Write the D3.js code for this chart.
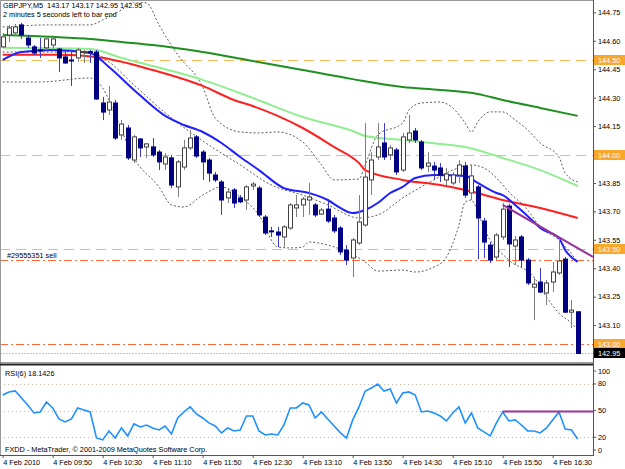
<!DOCTYPE html>
<html>
<head>
<meta charset="utf-8">
<script src="https://cdn.jsdelivr.net/npm/d3@7"></script>
<style>
  body { margin: 0; background: #fff; }
  text { font-family: "Liberation Sans", Arial, sans-serif; font-size: 7.3px; white-space: pre; }
</style>
</head>
<body>
<svg id="chart" width="625" height="469"></svg>
<script>
// GBPJPY M5, 4 Feb 2010, bars 09:10 .. 16:50
const open = [144.568,144.631,144.642,144.684,144.615,144.568,144.552,144.563,144.578,144.557,
  144.515,144.499,144.510,144.541,144.543,144.541,144.272,144.235,144.272,144.103,
  144.140,143.971,144.082,144.040,144.040,144.013,143.950,143.982,143.829,143.934,
  144.035,144.093,144.013,143.971,143.892,143.855,143.771,143.813,143.771,143.760,
  143.834,143.823,143.670,143.597,143.591,143.565,143.612,143.718,143.734,143.760,
  143.734,143.686,143.712,143.665,143.612,143.496,143.454,143.533,143.628,143.866,
  143.987,144.061,143.998,144.024,143.918,144.077,144.124,144.066,143.939,143.939,
  143.929,143.866,143.850,143.892,143.939,143.797,143.829,143.649,143.522,143.459,
  143.565,143.728,143.517,143.565,143.443,143.300,143.327,143.269,143.327,143.375,
  143.448,143.168,143.170];
const high = [144.642,144.684,144.689,144.695,144.631,144.578,144.615,144.615,144.621,144.563,
  144.552,144.552,144.563,144.552,144.552,144.552,144.304,144.362,144.288,144.182,
  144.156,144.103,144.087,144.061,144.087,144.024,144.008,143.998,143.971,144.077,
  144.130,144.103,144.024,143.982,143.908,143.866,143.823,143.823,143.786,143.839,
  143.855,143.834,143.681,143.618,143.618,143.628,143.744,143.786,143.776,143.850,
  143.744,143.718,143.765,143.681,143.623,143.522,143.560,143.786,144.166,144.013,
  144.166,144.166,144.050,144.035,144.114,144.209,144.140,144.077,144.013,143.961,
  143.955,143.929,143.908,143.971,143.961,143.945,143.839,143.665,143.538,143.586,
  143.744,143.739,143.570,143.575,143.454,143.348,143.401,143.338,143.433,143.565,
  143.459,143.232,143.170];
const low = [144.563,144.594,144.626,144.610,144.563,144.526,144.510,144.552,144.552,144.436,
  144.478,144.362,144.489,144.483,144.483,144.288,144.182,144.209,144.077,144.077,
  143.971,143.955,143.987,143.982,143.987,143.918,143.918,143.823,143.776,143.918,
  144.024,143.982,143.866,143.855,143.855,143.681,143.744,143.718,143.744,143.707,
  143.813,143.670,143.575,143.565,143.512,143.507,143.602,143.670,143.670,143.681,
  143.670,143.681,143.639,143.586,143.470,143.417,143.353,143.522,143.618,143.786,
  143.971,143.971,143.971,143.892,143.908,144.061,144.061,143.918,143.908,143.866,
  143.855,143.839,143.839,143.850,143.771,143.760,143.448,143.454,143.427,143.443,
  143.549,143.406,143.417,143.406,143.311,143.126,143.269,143.205,143.274,143.364,
  143.163,143.084,142.950];
const close = [144.621,144.668,144.673,144.631,144.578,144.536,144.550,144.610,144.610,144.510,
  144.483,144.497,144.552,144.543,144.541,144.293,144.224,144.277,144.087,144.161,
  143.982,144.093,144.035,144.056,143.998,143.961,143.987,143.839,143.961,144.035,
  144.087,143.992,143.961,143.902,143.866,143.760,143.802,143.744,143.750,143.829,
  143.844,143.681,143.586,143.594,143.575,143.618,143.734,143.734,143.765,143.776,
  143.681,143.707,143.649,143.597,143.486,143.443,143.549,143.644,143.881,143.971,
  144.040,143.987,144.035,143.908,144.093,144.114,144.077,143.929,143.955,143.918,
  143.892,143.897,143.892,143.945,143.786,143.887,143.665,143.538,143.443,143.575,
  143.712,143.528,143.549,143.443,143.322,143.316,143.274,143.322,143.380,143.438,
  143.168,143.179,142.950];

// RSI(6), one value per bar
const rsi = [67.6,71,72.1,64.2,56.3,47.3,48.5,59.7,53,40.6,
  37.2,40.6,53,50.7,48.5,19.2,17,27.1,19.2,30.5,
  21.5,35,31.6,33.8,30.5,28.2,32.7,23.7,41.7,48.5,
  54.1,46.2,41.7,36.1,32.7,24.8,30.5,27.1,28.2,44,
  44,27.1,22.6,23.7,22.6,33.8,53,53,58.6,56.3,
  41.7,48.5,40.6,33,25.2,18.9,39.5,54.1,72.1,75.5,
  80,72.1,74.3,58.6,69.8,71,67.6,48.5,49.6,47.3,
  44,38.3,47.3,54.1,36.1,47.3,30.5,26,21.5,36.1,
  48.5,38.3,39.5,33.8,27.1,27.1,24.8,30.5,39.5,48.5,
  29.3,28.2,18.1];

// indicator lines: [bar, price]
const maSlow = [[0,144.631],[8,144.621],[14,144.610],[19,144.594],[24,144.578],[32,144.541],[40,144.494],
  [48,144.446],[56,144.398],[64,144.357],[70,144.341],[76,144.320],[80,144.288],[86,144.246],[92,144.204]];
const maLong = [[0,144.563],[14,144.557],[19,144.510],[24,144.467],[32,144.394],[40,144.299],[48,144.198],
  [56,144.124],[58,144.098],[64,144.077],[70,144.056],[74,144.040],[80,143.982],[86,143.918],[92,143.834]];
const maMid = [[0,144.526],[9,144.526],[15,144.515],[24,144.446],[32,144.362],[37,144.288],[40,144.256],
  [44,144.204],[48,144.140],[53,144.040],[57,143.955],[58,143.918],[64,143.866],[70,143.839],[74,143.813],
  [80,143.760],[86,143.718],[92,143.665]];
const maFast = [[0,144.499],[3,144.541],[8,144.552],[14,144.536],[17,144.462],[21,144.341],[26,144.204],
  [29,144.156],[32,144.119],[35,144.061],[38,143.987],[41,143.918],[45,143.823],[49,143.797],[52,143.760],
  [54,143.718],[56,143.691],[58,143.707],[60,143.744],[62,143.797],[64,143.829],[66,143.876],[69,143.892],
  [74,143.887],[76,143.850],[79,143.797],[80,143.786],[82,143.734],[85,143.644],[86,143.612],[89,143.559],
  [90,143.496],[92,143.433]];
const bbUpper = [[0,144.673],[3,144.679],[7,144.684],[14,144.684],[16,144.710],[19,144.763],[21,144.805],
  [23,144.800],[25,144.684],[28,144.526],[32,144.357],[34,144.193],[38,144.119],[41,144.114],[44,144.119],
  [48,144.066],[51,143.945],[53,143.866],[57,143.871],[58,143.945],[60,144.103],[64,144.166],[65,144.235],
  [67,144.272],[70,144.277],[72,144.246],[74,144.166],[75,144.119],[76,144.172],[78,144.225],[80,144.225],
  [82,144.182],[84,144.130],[86,144.061],[89,143.987],[90,143.902],[92,143.855]];
const bbMiddle = [[0,144.541],[7,144.541],[14,144.541],[17,144.489],[21,144.367],[27,144.193],[32,144.072],
  [38,143.945],[43,143.839],[48,143.786],[52,143.734],[57,143.665],[60,143.681],[64,143.771],[69,143.866],
  [72,143.918],[75,143.945],[77,143.929],[79,143.876],[81,143.802],[84,143.707],[86,143.618],[89,143.549],
  [92,143.433]];
const bbLower = [[0,144.383],[6,144.383],[14,144.404],[16,144.351],[18,144.209],[21,143.982],[25,143.829],
  [27,143.734],[29,143.723],[32,143.786],[35,143.829],[38,143.776],[41,143.681],[44,143.512],[46,143.507],
  [48,143.512],[49,143.538],[52,143.522],[57,143.454],[58,143.433],[60,143.385],[64,143.390],[66,143.380],
  [69,143.406],[71,143.459],[73,143.628],[74,143.750],[75,143.760],[76,143.697],[77,143.612],[81,143.443],
  [85,143.353],[87,143.248],[89,143.163],[91,143.110],[92,143.074]];

// drawn objects
const trendPoints = [[80,143.734],[89,143.563]];
const rsiLevelStart = [80, 49];
const levelLines = [144.50, 144.00, 143.50];
const orderLines = [143.445, 143.00];
const orderLabel = '#29555351 sell';
const bidPrice = 142.95;
const axisMarks = [144.50, 144.00, 143.50, 143.00];

const priceTicks = [144.75,144.60,144.45,144.30,144.15,144.00,143.85,143.70,143.55,143.40,143.25,143.10];
const rsiTicks = [100, 80, 50, 20, 0];
const rsiGrid = [80, 50, 20];
const tickBars = [0,8,16,24,32,40,48,56,64,72,80,88];
const tickLabels = ['4 Feb 2010','4 Feb 09:50','4 Feb 10:30','4 Feb 11:10','4 Feb 11:50','4 Feb 12:30',
  '4 Feb 13:10','4 Feb 13:50','4 Feb 14:30','4 Feb 15:10','4 Feb 15:50','4 Feb 16:30'];

const titleLine = 'GBPJPY,M5  143.17 143.17 142.95 142.95';
const timerLine = '2 minutes 5 seconds left to bar end';
const rsiTitle = 'RSI(6) 18.1426';
const footer = 'FXDD - MetaTrader, \u00a9 2001-2009 MetaQuotes Software Corp.';

// layout
const plotRight = 593;
const mainTop = 2, mainBottom = 362, rsiTop = 366, rsiBottom = 455;

const svg = d3.select('#chart');
svg.append('rect').attr('width', 625).attr('height', 469).attr('fill', '#fff');

const x = d3.scaleLinear().domain([0, 92]).range([2.7, 577.7]);
const y = d3.scaleLinear().domain([142.905, 144.805]).range([mainBottom, mainTop]);
const yR = d3.scaleLinear().domain([0, 100]).range([rsiBottom, 366.2]);

const defs = svg.append('defs');
defs.append('clipPath').attr('id', 'clipMain').append('rect')
  .attr('x', 0).attr('y', mainTop).attr('width', plotRight).attr('height', mainBottom - mainTop);
defs.append('clipPath').attr('id', 'clipRsi').append('rect')
  .attr('x', 0).attr('y', rsiTop).attr('width', plotRight).attr('height', rsiBottom - rsiTop);

const main = svg.append('g').attr('clip-path', 'url(#clipMain)');

// horizontal level lines
main.selectAll('.lvl').data(levelLines).enter().append('line')
  .attr('x1', 0).attr('x2', plotRight)
  .attr('y1', d => Math.round(y(d)) + 0.5).attr('y2', d => Math.round(y(d)) + 0.5)
  .attr('stroke', '#f9b85a').attr('stroke-dasharray', '10,6');
main.selectAll('.ord').data(orderLines).enter().append('line')
  .attr('x1', 0).attr('x2', plotRight)
  .attr('y1', d => Math.round(y(d)) + 0.5).attr('y2', d => Math.round(y(d)) + 0.5)
  .attr('stroke', '#ff6a3a').attr('stroke-dasharray', '8,3,2,3');
main.append('line')
  .attr('x1', 0).attr('x2', plotRight)
  .attr('y1', Math.round(y(bidPrice)) + 0.5).attr('y2', Math.round(y(bidPrice)) + 0.5)
  .attr('stroke', '#c8c8c8').attr('stroke-dasharray', '2,1');

const line = d3.line().x(d => x(d[0])).y(d => y(d[1])).curve(d3.curveMonotoneX);

// bollinger bands
[bbUpper, bbMiddle, bbLower].forEach(band => {
  main.append('path').attr('d', line(band)).attr('fill', 'none')
    .attr('stroke', '#333').attr('stroke-width', 0.8).attr('stroke-dasharray', '2,2');
});

// moving averages
const maDefs = [[maSlow, '#1f8f1f'], [maLong, '#90ee90'], [maMid, '#ff2020'], [maFast, '#2020ff']];
maDefs.forEach(([pts, col]) => {
  main.append('path').attr('d', line(pts)).attr('fill', 'none')
    .attr('stroke', col).attr('stroke-width', 2);
});

// candles
const bars = d3.range(open.length);
const cg = main.append('g');
cg.selectAll('.wick').data(bars).enter().append('line')
  .attr('x1', i => Math.round(x(i)) + 0.5).attr('x2', i => Math.round(x(i)) + 0.5)
  .attr('y1', i => y(high[i])).attr('y2', i => y(low[i]))
  .attr('stroke', i => close[i] < open[i] ? '#3a3ad0' : '#808080');
cg.selectAll('.body').data(bars).enter().append('rect')
  .attr('x', i => Math.round(x(i)) - 2 + 0.5)
  .attr('width', 4)
  .attr('y', i => y(Math.max(open[i], close[i])))
  .attr('height', i => Math.max(1, y(Math.min(open[i], close[i])) - y(Math.max(open[i], close[i]))))
  .attr('fill', i => close[i] < open[i] ? '#000080' : '#fff')
  .attr('stroke', i => close[i] < open[i] ? '#000080' : '#404040')
  .attr('stroke-width', 1);

// trend line extended to the right edge
const slope = (trendPoints[1][1] - trendPoints[0][1]) / (trendPoints[1][0] - trendPoints[0][0]);
const endBar = x.invert(plotRight);
main.append('line')
  .attr('x1', x(trendPoints[0][0])).attr('y1', y(trendPoints[0][1]))
  .attr('x2', x(endBar)).attr('y2', y(trendPoints[0][1] + slope * (endBar - trendPoints[0][0])))
  .attr('stroke', '#993399').attr('stroke-width', 2);

main.append('text').attr('x', 7).attr('y', Math.round(y(orderLines[0])) - 2).text(orderLabel);
main.append('text').attr('x', 3).attr('y', 8).text(titleLine);
main.append('text').attr('x', 3).attr('y', 17).text(timerLine);

// RSI panel
const rg = svg.append('g').attr('clip-path', 'url(#clipRsi)');
rg.selectAll('.rg').data(rsiGrid).enter().append('line')
  .attr('x1', 0).attr('x2', plotRight)
  .attr('y1', d => Math.round(yR(d)) + 0.5).attr('y2', d => Math.round(yR(d)) + 0.5)
  .attr('stroke', '#c9b9a0').attr('stroke-dasharray', '1,3');
rg.append('path')
  .attr('d', d3.line().x((d, i) => x(i)).y(d => yR(d))(rsi))
  .attr('fill', 'none').attr('stroke', '#1e90ff').attr('stroke-width', 1.6);
rg.append('line')
  .attr('x1', x(rsiLevelStart[0])).attr('x2', plotRight)
  .attr('y1', yR(rsiLevelStart[1])).attr('y2', yR(rsiLevelStart[1]))
  .attr('stroke', '#993399').attr('stroke-width', 2);
rg.append('text').attr('x', 5).attr('y', 376).text(rsiTitle);
rg.append('text').attr('x', 5).attr('y', 452).text(footer);

// frames
svg.append('line').attr('x1', 0).attr('x2', plotRight).attr('y1', 0.5).attr('y2', 0.5).attr('stroke', '#999');
svg.append('line').attr('x1', 0.5).attr('x2', 0.5).attr('y1', 0).attr('y2', rsiBottom).attr('stroke', '#999');
svg.append('line').attr('x1', 0).attr('x2', plotRight).attr('y1', 362.5).attr('y2', 362.5).attr('stroke', '#999');
svg.append('rect').attr('x', 0).attr('y', 363.5).attr('width', plotRight).attr('height', 2).attr('fill', '#222');
svg.append('line').attr('x1', plotRight + 0.5).attr('x2', plotRight + 0.5).attr('y1', 0).attr('y2', rsiBottom)
  .attr('stroke', '#555');
svg.append('line').attr('x1', 0).attr('x2', plotRight + 1).attr('y1', rsiBottom + 0.5).attr('y2', rsiBottom + 0.5)
  .attr('stroke', '#555');

// price axis
const pAxis = svg.append('g').attr('transform', `translate(${plotRight},0)`)
  .call(d3.axisRight(y).tickValues(priceTicks).tickSize(3).tickPadding(2).tickFormat(d3.format('.2f')));
pAxis.select('.domain').remove();
pAxis.selectAll('text').style('font-size', '7.3px').attr('fill', '#000');
pAxis.selectAll('line').attr('stroke', '#555');

const marks = svg.append('g');
axisMarks.forEach(v => {
  const cy = Math.round(y(v));
  marks.append('rect').attr('x', 594).attr('y', cy - 5).attr('width', 31).attr('height', 10).attr('fill', '#f7a72c');
  marks.append('text').attr('x', 598).attr('y', cy + 2.5).attr('fill', '#fff').text(d3.format('.2f')(v));
});
{
  const cy = Math.round(y(bidPrice));
  marks.append('rect').attr('x', 594).attr('y', cy - 5).attr('width', 31).attr('height', 10).attr('fill', '#000');
  marks.append('text').attr('x', 598).attr('y', cy + 2.5).attr('fill', '#fff').text(d3.format('.2f')(bidPrice));
}

// rsi axis labels
const clampR = d => Math.min(450, Math.max(371, yR(d)));
const ra = svg.append('g');
ra.selectAll('text').data(rsiTicks).enter().append('text')
  .attr('x', 598).attr('y', d => clampR(d) + 2.5).text(d => d);
ra.selectAll('line').data(rsiTicks).enter().append('line')
  .attr('x1', plotRight).attr('x2', plotRight + 3)
  .attr('y1', clampR).attr('y2', clampR)
  .attr('stroke', '#555');

// time axis
const tAxis = svg.append('g').attr('transform', `translate(0,${rsiBottom})`)
  .call(d3.axisBottom(x).tickValues(tickBars).tickSize(3).tickPadding(2)
    .tickFormat((d, k) => tickLabels[k]));
tAxis.select('.domain').remove();
tAxis.selectAll('text').style('font-size', '7.3px').attr('text-anchor', 'start').attr('fill', '#000');
tAxis.selectAll('line').attr('stroke', '#555');
</script>
</body>
</html>
